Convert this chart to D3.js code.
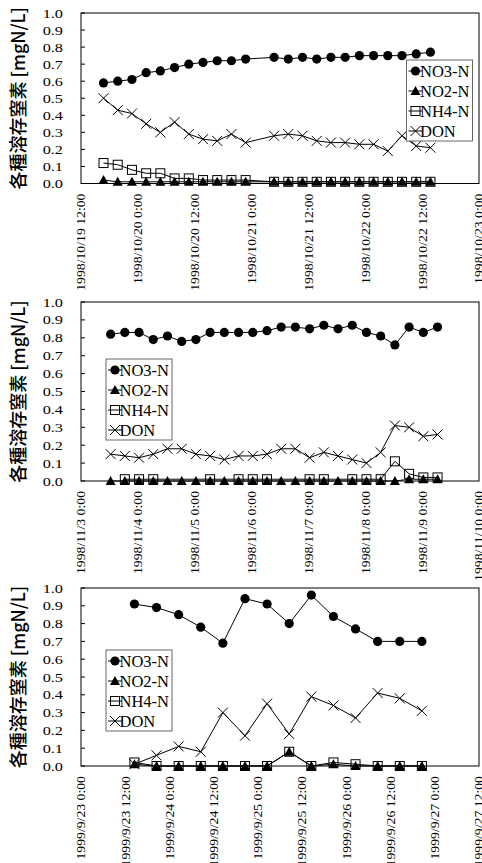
<!DOCTYPE html>
<html lang="ja">
<head>
    <meta charset="UTF-8">
    <title>各種溶存窒素</title>
    <script src="https://d3js.org/d3.v7.min.js"></script>
    <style>
        body, html {
            margin: 0;
            padding: 0;
            background: #fff;
        }

        svg {
            display: block;
        }

        svg text.serif {
            font-family: "Liberation Serif", "DejaVu Serif", serif;
            fill: #000;
        }

        .ytitle {
            font-family: 'Noto Sans CJK JP', sans-serif;
            font-size: 18px;
            font-weight: 500;
            fill: #000;
        }
    </style>
</head>
<body>

<svg id="chart" width="482" height="863"></svg>

<script>

const seriesNames = ["NO3-N", "NO2-N", "NH4-N", "DON"];
const yTicks = [0, 0.1, 0.2, 0.3, 0.4, 0.5, 0.6, 0.7, 0.8, 0.9, 1.0];

// --- 1998/10/19 - 10/22 (3 hourly) ---
const ticks1 = ["1998-10-19 12:00", "1998-10-20 00:00", "1998-10-20 12:00", "1998-10-21 00:00",
                "1998-10-21 12:00", "1998-10-22 00:00", "1998-10-22 12:00", "1998-10-23 00:00"];
const times1 = ["1998-10-19 16:45", "1998-10-19 19:45", "1998-10-19 22:45", "1998-10-20 01:45",
                "1998-10-20 04:45", "1998-10-20 07:45", "1998-10-20 10:45", "1998-10-20 13:45",
                "1998-10-20 16:45", "1998-10-20 19:45", "1998-10-20 22:45", "1998-10-21 04:45",
                "1998-10-21 07:45", "1998-10-21 10:45", "1998-10-21 13:45", "1998-10-21 16:45",
                "1998-10-21 19:45", "1998-10-21 22:45", "1998-10-22 01:45", "1998-10-22 04:45",
                "1998-10-22 07:45", "1998-10-22 10:45", "1998-10-22 13:45"];
const no3_1 = [0.59, 0.60, 0.61, 0.65, 0.66, 0.68, 0.70, 0.71, 0.72, 0.72, 0.73, 0.74,
               0.73, 0.74, 0.73, 0.74, 0.74, 0.75, 0.75, 0.75, 0.75, 0.76, 0.77];
const no2_1 = [0.02, 0.01, 0.01, 0.01, 0.01, 0.01, 0.01, 0.01, 0.01, 0.01, 0.01, 0.01,
               0.01, 0.01, 0.01, 0.01, 0.01, 0.01, 0.01, 0.01, 0.01, 0.01, 0.01];
const nh4_1 = [0.12, 0.11, 0.08, 0.06, 0.06, 0.03, 0.03, 0.02, 0.02, 0.02, 0.02, 0.01,
               0.01, 0.01, 0.01, 0.01, 0.01, 0.01, 0.01, 0.01, 0.01, 0.01, 0.01];
const don_1 = [0.50, 0.43, 0.41, 0.35, 0.30, 0.36, 0.29, 0.26, 0.25, 0.29, 0.24, 0.28,
               0.29, 0.28, 0.25, 0.24, 0.24, 0.23, 0.23, 0.19, 0.28, 0.22, 0.21];

// --- 1998/11/3 - 11/9 (6 hourly) ---
const ticks2 = ["1998-11-03 00:00", "1998-11-04 00:00", "1998-11-05 00:00", "1998-11-06 00:00",
                "1998-11-07 00:00", "1998-11-08 00:00", "1998-11-09 00:00", "1998-11-10 00:00"];
const times2 = ["1998-11-03 12:30", "1998-11-03 18:30", "1998-11-04 00:30", "1998-11-04 06:30",
                "1998-11-04 12:30", "1998-11-04 18:30", "1998-11-05 00:30", "1998-11-05 06:30",
                "1998-11-05 12:30", "1998-11-05 18:30", "1998-11-06 00:30", "1998-11-06 06:30",
                "1998-11-06 12:30", "1998-11-06 18:30", "1998-11-07 00:30", "1998-11-07 06:30",
                "1998-11-07 12:30", "1998-11-07 18:30", "1998-11-08 00:30", "1998-11-08 06:30",
                "1998-11-08 12:30", "1998-11-08 18:30", "1998-11-09 00:30", "1998-11-09 06:30"];
const no3_2 = [0.82, 0.83, 0.83, 0.79, 0.81, 0.78, 0.79, 0.83, 0.83, 0.83, 0.83, 0.84,
               0.86, 0.86, 0.85, 0.87, 0.85, 0.87, 0.83, 0.81, 0.76, 0.86, 0.83, 0.86];
const no2_2 = [0.00, 0.00, 0.00, 0.00, 0.00, 0.00, 0.00, 0.00, 0.00, 0.00, 0.00, 0.00,
               0.00, 0.00, 0.00, 0.00, 0.00, 0.00, 0.00, 0.00, 0.00, 0.01, 0.01, 0.01];
const nh4_2 = [null, 0.01, 0.01, 0.01, null, null, null, 0.01, null, 0.01, 0.01, 0.01,
               null, null, 0.01, 0.01, null, 0.01, 0.01, 0.01, 0.11, 0.04, 0.02, 0.02];
const don_2 = [0.15, 0.14, 0.13, 0.15, 0.18, 0.18, 0.15, 0.14, 0.12, 0.14, 0.14, 0.15,
               0.18, 0.18, 0.13, 0.16, 0.14, 0.12, 0.10, 0.16, 0.31, 0.30, 0.25, 0.26];

// --- 1999/9/23 - 9/26 (6 hourly) ---
const ticks3 = ["1999-09-23 00:00", "1999-09-23 12:00", "1999-09-24 00:00", "1999-09-24 12:00",
                "1999-09-25 00:00", "1999-09-25 12:00", "1999-09-26 00:00", "1999-09-26 12:00",
                "1999-09-27 00:00", "1999-09-27 12:00"];
const times3 = ["1999-09-23 14:30", "1999-09-23 20:30", "1999-09-24 02:30", "1999-09-24 08:30",
                "1999-09-24 14:30", "1999-09-24 20:30", "1999-09-25 02:30", "1999-09-25 08:30",
                "1999-09-25 14:30", "1999-09-25 20:30", "1999-09-26 02:30", "1999-09-26 08:30",
                "1999-09-26 14:30", "1999-09-26 20:30"];
const no3_3 = [0.91, 0.89, 0.85, 0.78, 0.69, 0.94, 0.91, 0.80, 0.96, 0.84, 0.77, 0.70, 0.70, 0.70];
const no2_3 = [0.01, 0.00, 0.00, 0.00, 0.00, 0.00, 0.00, 0.08, 0.00, 0.01, 0.00, 0.00, 0.00, 0.00];
const nh4_3 = [0.02, 0.00, 0.00, 0.00, 0.00, 0.00, 0.00, 0.08, 0.00, 0.02, 0.01, 0.00, 0.00, 0.00];
const don_3 = [0.01, 0.06, 0.11, 0.08, 0.30, 0.17, 0.35, 0.18, 0.39, 0.34, 0.27, 0.41, 0.38, 0.31];

const parse = d3.timeParse("%Y-%m-%d %H:%M");
const fmt = d3.timeFormat("%Y/%-m/%-d %-H:%M");
const svg = d3.select("#chart");

const plotLeft = 81, plotRight = 479;
const markerKinds = ["circle", "triangle", "square", "cross"];

function drawMarker(g, kind, cx, cy) {
    if (kind === "circle") {
        g.append("circle").attr("cx", cx).attr("cy", cy).attr("r", 4.6).attr("fill", "#000");
    } else if (kind === "triangle") {
        g.append("path")
            .attr("d", `M${cx},${cy - 5}L${cx + 5},${cy + 4}L${cx - 5},${cy + 4}Z`)
            .attr("fill", "#000");
    } else if (kind === "square") {
        g.append("rect").attr("x", cx - 4.5).attr("y", cy - 4.5).attr("width", 9).attr("height", 9)
            .attr("fill", "none").attr("stroke", "#000").attr("stroke-width", 1);
    } else {
        g.append("path")
            .attr("d", `M${cx - 5},${cy - 5}L${cx + 5},${cy + 5}M${cx - 5},${cy + 5}L${cx + 5},${cy - 5}`)
            .attr("stroke", "#000").attr("stroke-width", 1).attr("fill", "none");
    }
}

function drawPanel(top, bottom, ticks, times, values, legendX, legendY) {
    const tickDates = ticks.map(parse);
    const x = d3.scaleTime().domain([tickDates[0], tickDates[tickDates.length - 1]]).range([plotLeft, plotRight]);
    const y = d3.scaleLinear().domain([0, 1]).range([bottom, top]);
    const g = svg.append("g");

    // frame
    g.append("rect")
        .attr("x", plotLeft).attr("y", top)
        .attr("width", plotRight - plotLeft).attr("height", bottom - top)
        .attr("fill", "none").attr("stroke", "#000").attr("stroke-width", 1);

    // y ticks (inward) and labels
    yTicks.forEach(v => {
        g.append("line")
            .attr("x1", plotLeft).attr("x2", plotLeft + 4)
            .attr("y1", y(v)).attr("y2", y(v))
            .attr("stroke", "#000");
        g.append("text")
            .attr("class", "serif")
            .attr("transform", `translate(63,${y(v)}) scale(1.25,1)`)
            .attr("text-anchor", "end")
            .attr("dy", "0.35em")
            .style("font-size", "13px")
            .text(d3.format(".1f")(v));
    });

    // x labels, rotated
    tickDates.forEach(t => {
        g.append("text")
            .attr("class", "serif")
            .attr("transform", `translate(${x(t)},${bottom + 10}) rotate(-90) scale(1.1,1)`)
            .attr("text-anchor", "end")
            .attr("dy", "0.35em")
            .style("font-size", "12.5px")
            .text(fmt(t));
    });

    // y title
    g.append("text")
        .attr("class", "ytitle")
        .attr("transform", `translate(19,${(top + bottom) / 2}) rotate(-90)`)
        .attr("text-anchor", "middle")
        .attr("dy", "0.35em")
        .text("各種溶存窒素 [mgN/L]");

    // series
    const line = d3.line().x(d => x(d.t)).y(d => y(d.v));
    values.forEach((vals, i) => {
        const data = times.map((s, j) => ({t: parse(s), v: vals[j]})).filter(d => d.v != null);
        const sg = g.append("g");
        sg.append("path")
            .attr("d", line(data))
            .attr("fill", "none").attr("stroke", "#000").attr("stroke-width", 1);
        data.forEach(d => drawMarker(sg, markerKinds[i], x(d.t), y(d.v)));
    });

    // legend
    const lg = g.append("g").attr("transform", `translate(${legendX},${legendY})`);
    lg.append("rect")
        .attr("width", 66).attr("height", 81)
        .attr("fill", "#fff").attr("stroke", "#666").attr("stroke-width", 1);
    seriesNames.forEach((name, i) => {
        const ry = 11 + i * 20;
        lg.append("line")
            .attr("x1", 2).attr("x2", 16).attr("y1", ry).attr("y2", ry)
            .attr("stroke", "#000");
        drawMarker(lg, markerKinds[i], 9, ry);
        lg.append("text")
            .attr("class", "serif")
            .attr("x", 13.5).attr("y", ry)
            .attr("dy", "0.35em")
            .style("font-size", "16.5px")
            .text(name);
    });
}

drawPanel(13, 183.5, ticks1, times1, [no3_1, no2_1, nh4_1, don_1], 406.5, 60);
drawPanel(302, 481, ticks2, times2, [no3_2, no2_2, nh4_2, don_2], 106, 359);
drawPanel(588, 766, ticks3, times3, [no3_3, no2_3, nh4_3, don_3], 106, 650);

</script>

</body>
</html>
